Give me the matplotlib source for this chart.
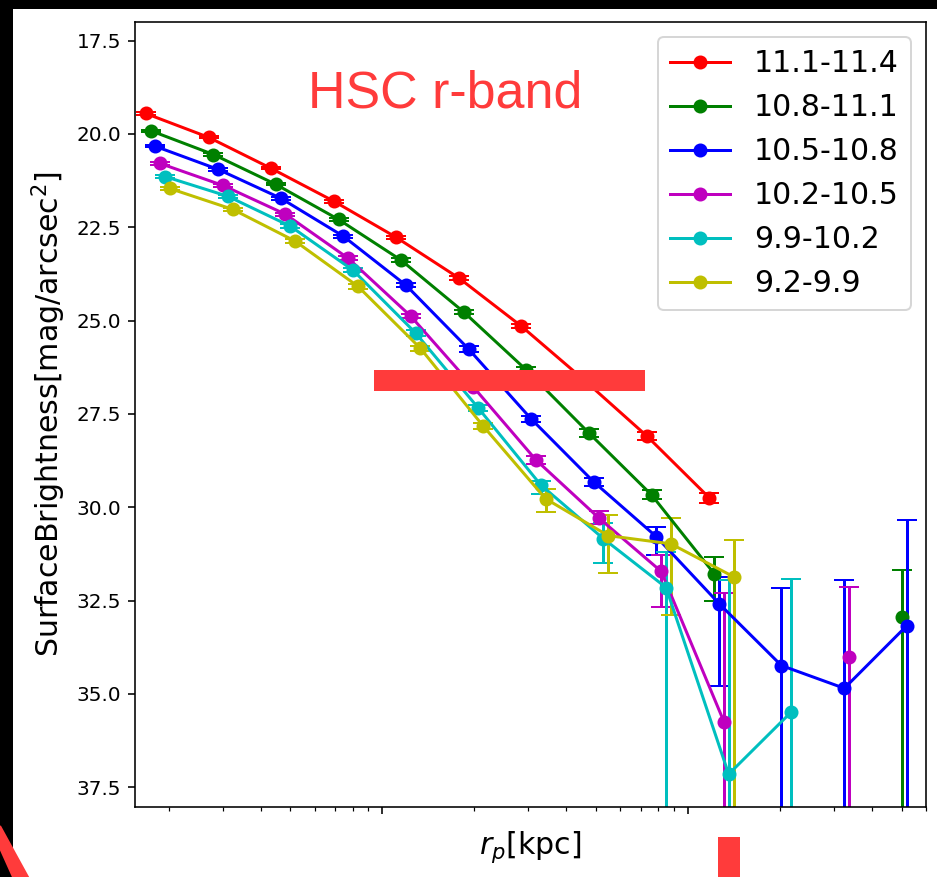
import numpy as np
import matplotlib
matplotlib.use('Agg')
import matplotlib.pyplot as plt
from matplotlib.patches import Rectangle, Polygon
from matplotlib.ticker import NullFormatter

nan = np.nan

# radial bins [kpc]
rp = [1.68, 2.70, 4.32, 6.93, 11.1, 17.8, 28.5, 45.7, 73.3, 117.5, 188.0, 302.0, 484.0]

labels = ['11.1-11.4', '10.8-11.1', '10.5-10.8', '10.2-10.5', '9.9-10.2', '9.2-9.9']
colors = ['r', 'g', 'b', 'm', 'c', 'y']

sb_r = [19.45, 20.09, 20.92, 21.80, 22.77, 23.86, 25.15, 26.59, 28.09, 29.75, nan, nan, nan]
sb_g = [19.91, 20.55, 21.35, 22.29, 23.38, 24.77, 26.32, 28.01, 29.67, 31.78, nan, nan, 32.93]
sb_b = [20.33, 20.95, 21.72, 22.74, 24.05, 25.76, 27.63, 29.32, 30.79, 32.58, 34.24, 34.85, 33.17]
sb_m = [20.79, 21.38, 22.15, 23.33, 24.88, 26.78, 28.73, 30.28, 31.72, 35.74, nan, 34.00, nan]
sb_c = [21.14, 21.67, 22.47, 23.65, 25.33, 27.34, 29.40, 30.84, 32.15, 37.15, 35.49, nan, nan]
sb_y = [21.46, 22.02, 22.87, 24.08, 25.74, 27.82, 29.77, 30.76, 30.98, 31.86, nan, nan, nan]

# errors: lo = brighter side (up), hi = fainter side (down); 8.0 = runs off the axis
lo_r = [0.03, 0.03, 0.03, 0.04, 0.04, 0.05, 0.06, 0.08, 0.10, 0.13, 0, 0, 0]
hi_r = [0.03, 0.03, 0.03, 0.04, 0.04, 0.05, 0.06, 0.08, 0.10, 0.13, 0, 0, 0]
lo_g = [0.03, 0.03, 0.03, 0.04, 0.05, 0.06, 0.07, 0.10, 0.12, 0.45, 0, 0, 1.26]
hi_g = [0.03, 0.03, 0.03, 0.04, 0.05, 0.06, 0.07, 0.10, 0.12, 0.72, 0, 0, 8.0]
lo_b = [0.03, 0.03, 0.04, 0.04, 0.05, 0.07, 0.08, 0.10, 0.27, 0.70, 2.09, 2.90, 2.84]
hi_b = [0.03, 0.03, 0.04, 0.04, 0.05, 0.07, 0.08, 0.10, 0.48, 2.22, 8.0, 8.0, 8.0]
lo_m = [0.04, 0.04, 0.04, 0.05, 0.06, 0.08, 0.10, 0.17, 0.45, 3.43, 0, 1.87, 0]
hi_m = [0.04, 0.04, 0.04, 0.05, 0.06, 0.08, 0.10, 0.17, 0.94, 8.0, 0, 8.0, 0]
lo_c = [0.04, 0.04, 0.05, 0.05, 0.07, 0.08, 0.10, 0.43, 0.94, 5.20, 3.56, 0, 0]
hi_c = [0.04, 0.04, 0.05, 0.05, 0.07, 0.08, 0.24, 0.64, 8.0, 8.0, 8.0, 0, 0]
lo_y = [0.04, 0.05, 0.05, 0.06, 0.07, 0.09, 0.25, 0.56, 0.70, 0.99, 0, 0, 0]
hi_y = [0.04, 0.05, 0.05, 0.06, 0.07, 0.09, 0.37, 0.99, 1.90, 8.0, 0, 0, 0]

sb = [sb_r, sb_g, sb_b, sb_m, sb_c, sb_y]
lo = [lo_r, lo_g, lo_b, lo_m, lo_c, lo_y]
hi = [hi_r, hi_g, hi_b, hi_m, hi_c, hi_y]

W, H = 937, 877
fig = plt.figure(figsize=(W / 144, H / 144), dpi=144)
ax = fig.add_axes([135 / W, 1 - 807 / H, (926 - 135) / W, (807 - 22) / H])

dodge = 1.037
handles = []
for i in range(6):
    x = np.array(rp) * dodge ** i
    eb = ax.errorbar(x, sb[i], yerr=[lo[i], hi[i]], fmt='-o', color=colors[i], capsize=5)
    handles.append(eb.lines[0])

ax.set_xscale('log')
ax.set_xlim(1.55, 601)
ax.set_ylim(38.03, 17.0)
ax.xaxis.set_major_formatter(NullFormatter())
ax.xaxis.set_minor_formatter(NullFormatter())
ax.set_xlabel(r'$r_p$[kpc]', fontsize=15)
ax.set_ylabel(r'SurfaceBrightness[mag/arcsec$^2$]', fontsize=15)
ax.legend(handles, labels, loc='upper right', fontsize=15)

# overlays on the screenshot
def px(x, y):
    return (x / W, 1 - y / H)

red = '#ff3b3b'
fig.text(308 / W, 1 - 108 / H, 'HSC r-band', color=red, fontsize=26,
         family='Liberation Sans', va='baseline')
for (x0, y0, x1, y1, c) in [(375, 371, 644, 390, red), (719, 838, 739, 877, red),
                            (0, 0, W, 8, 'k'), (0, 0, 12, H, 'k')]:
    fig.add_artist(Rectangle(px(x0, y1), (x1 - x0) / W, (y1 - y0) / H,
                             transform=fig.transFigure, color=c, zorder=10))
fig.add_artist(Polygon([px(0, 826), px(0, 848), px(13, 877), px(28, 877)],
                       closed=True, transform=fig.transFigure, color=red, zorder=11))

fig.savefig('out.png', dpi=144)
